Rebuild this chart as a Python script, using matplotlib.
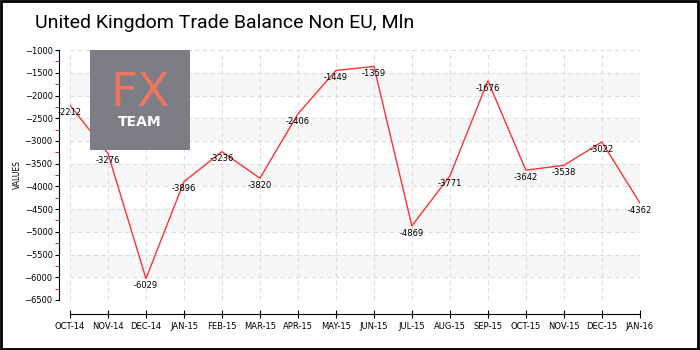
import numpy as np
import matplotlib.pyplot as plt
from matplotlib.patches import Rectangle
from matplotlib.ticker import MultipleLocator

months = ['OCT-14', 'NOV-14', 'DEC-14', 'JAN-15', 'FEB-15', 'MAR-15', 'APR-15', 'MAY-15',
          'JUN-15', 'JUL-15', 'AUG-15', 'SEP-15', 'OCT-15', 'NOV-15', 'DEC-15', 'JAN-16']
balance = [-2212, -3276, -6029, -3896, -3236, -3820, -2406, -1449,
           -1359, -4869, -3771, -1676, -3642, -3538, -3022, -4362]

fig = plt.figure(figsize=(7, 3.5), dpi=100)
fig.patch.set_facecolor('white')
# black frame around the whole picture
fig.add_artist(Rectangle((0.002, 0.003), 0.995, 0.994, transform=fig.transFigure,
                         fill=False, edgecolor='black', linewidth=2))

ax = fig.add_axes([0.1, 0.1429, 0.814, 0.714])
x = np.arange(len(months))

# alternating bands
for lo in range(-6000, -1000, 1000):
    ax.axhspan(lo, lo + 500, color='#f7f7f7', zorder=0, lw=0)

ax.plot(x, balance, color='#ff3333', linewidth=1, zorder=3)
for xi, v in zip(x, balance):
    ax.annotate(str(v), (xi, v), xytext=(0, -2), textcoords='offset points',
                ha='center', va='top', fontsize=6, zorder=4)

ax.set_xlim(0, len(months) - 1)
ax.set_ylim(-6500, -1000)
ax.set_xticks(x)
ax.set_xticklabels(months)
ax.yaxis.set_major_locator(MultipleLocator(500))
ax.yaxis.set_minor_locator(MultipleLocator(250))
ax.grid(True, which='major', color='#dddddd', linestyle=(0, (4, 3)), linewidth=0.8)
ax.set_axisbelow(True)

for s in ['top', 'right']:
    ax.spines[s].set_visible(False)
ax.spines['left'].set_position(('outward', 8))
ax.spines['bottom'].set_position(('outward', 10))
ax.tick_params(axis='x', direction='inout', length=6, labelsize=6, pad=3)
ax.tick_params(axis='y', which='major', direction='out', length=3, labelsize=6, pad=1.5)
ax.tick_params(axis='y', which='minor', direction='out', length=3, color='red')
ax.set_ylabel('VALUES', fontsize=5.5)
ax.yaxis.set_label_coords(-0.084, 0.5)

fig.text(0.05, 0.935, 'United Kingdom Trade Balance Non EU, Mln', fontsize=14,
         va='center', ha='left', color='black',
         family=['Roboto', 'DejaVu Sans'])

# FX TEAM logo box
fig.add_artist(Rectangle((90 / 700, 1 - 150 / 350), 100 / 700, 100 / 350,
                         transform=fig.transFigure, facecolor='#7c7d85',
                         edgecolor='none', zorder=5))
fig.text(140 / 700, 1 - 93 / 350, 'FX', fontsize=34, color='#f07560',
         ha='center', va='center', zorder=6)
fig.text(140 / 700, 1 - 122 / 350, 'TEAM', fontsize=10, color='white',
         ha='center', va='center', fontweight='bold', zorder=6)

fig.savefig('out.png', dpi=100)
